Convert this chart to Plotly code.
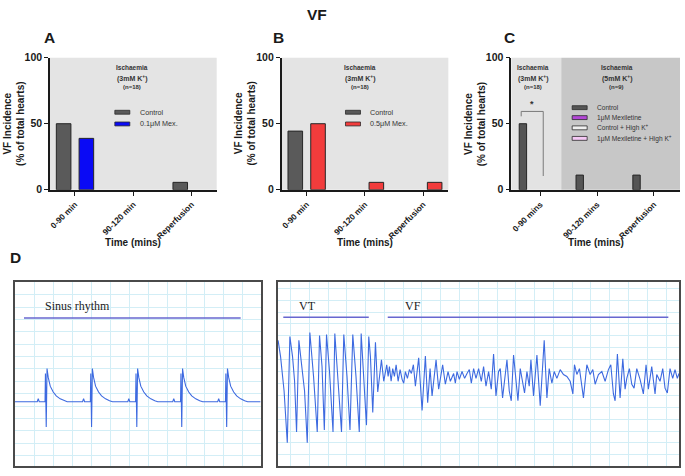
import plotly.graph_objects as go

# ---------------- data: panels A-C (VF incidence, % of hearts) ----------------
cats_ab = ["0-90 min", "90-120 min", "Reperfusion"]
cats_c = ["0-90 mins", "90-120 mins", "Reperfusion"]
y_ticks = [0, 50, 100]

a_names = ["Control", "0.1μM Mex."]
a_control = [50.0, 0.0, 5.6]
a_mex01 = [38.9, 0.0, 0.0]

b_names = ["Control", "0.5μM Mex."]
b_control = [44.4, 0.0, 0.0]
b_mex05 = [50.0, 5.6, 5.6]

c_names = ["Control", "1μM Mexiletine", "Control + High K<sup>+</sup>",
           "1μM Mexiletine + High K<sup>+</sup>"]
c_control = [50.0, 11.1, 11.1]
c_mex1 = [0.0, 0.0, 0.0]
c_ctrl_highk = [0.0, 0.0, 0.0]
c_mex1_highk = [0.0, 0.0, 0.0]

# ---------------- data: panel D (ECG traces) ----------------
sinus_t = [0, 22.3, 23.3, 24.3, 30.1, 30.5, 31.3, 32.1, 33.3, 35.3, 38.3, 41.3, 45.3, 49.3, 52.3,
           67.7, 68.7, 69.7, 75.5, 75.9, 76.7, 77.5, 78.7, 80.7, 83.7, 86.7, 90.7, 94.7, 97.7,
           113, 114, 115, 120.8, 121.2, 122, 122.8, 124, 126, 129, 132, 136, 140, 143,
           158, 159, 160, 165.8, 166.2, 167, 167.8, 169, 171, 174, 177, 181, 185, 188,
           203, 204, 205, 210.8, 211.2, 212, 212.8, 214, 216, 219, 222, 226, 230, 233, 246]
sinus_v = [0, 0, 3.3, 0, 0, 29, -26, 34, 25, 16, 10, 6, 3, 1, 0,
           0, 3.3, 0, 0, 29, -26, 34, 25, 16, 10, 6, 3, 1, 0,
           0, 3.3, 0, 0, 29, -26, 34, 25, 16, 10, 6, 3, 1, 0,
           0, 3.3, 0, 0, 29, -26, 34, 25, 16, 10, 6, 3, 1, 0,
           0, 3.3, 0, 0, 29, -26, 34, 25, 16, 10, 6, 3, 1, 0, 0]

vt_vf_samples = [
    (0.5, 37), (3, 20), (6.5, -15), (9.7, -68), (12.3, 41), (15, 20), (17, -5), (19, -57),
    (21.3, 37), (24, 15), (27, -15), (29.7, -68), (32.3, 45), (36, 0), (39.7, -57), (42, 42),
    (44.5, 10), (46.8, -55), (49, 43), (52, 5), (55.5, -57), (57.3, 44), (60.5, 0), (64, -57),
    (66.3, 43), (69.5, 0), (72.5, -55), (75.3, 43), (78.5, 0), (81.8, -57), (83.7, 44),
    (85.5, 15), (89, -50), (91.3, 41), (93, 20), (95.3, -37), (98, 35), (100.3, -16),
    (104, 17), (106.3, -5),
    (108, 5), (109.3, 12), (110.7, 0), (112, 10), (113.7, -5), (115.3, 8), (117, 0), (118.7, 12),
    (120.7, -5), (122.7, 7), (124.7, -3), (126.3, -7), (128, 5), (130, -2), (132, 7), (134, 3),
    (136, 12), (138, -10), (141.3, 19), (144.7, -35), (148, 21), (150.3, -27), (152.7, 8),
    (154.7, -20), (158.7, 17), (161.3, -13), (165.3, 12), (168, -8), (170.7, 5), (173, -5),
    (176.3, 3), (178, -7), (179.7, 5), (182, -3), (184.7, 5), (187.3, -2), (189.7, 3), (192, 7),
    (194, -7), (196.3, 8), (198.7, -2), (201.3, 8), (204, -5), (206.3, 10), (208.7, -10),
    (211.3, 5), (214, -13), (216.3, 23), (218.7, -20), (221.3, 5), (223, 8), (225.3, -22),
    (228, 2), (229.7, 17), (232, -15), (234, -25), (236.3, 22), (238.7, -8), (240.7, -25),
    (243, 8), (245.3, -5), (247.3, -17), (249.7, 5), (252, -10), (253.7, 17), (256.3, -20),
    (259.7, 22), (263, -30), (267, 37), (269.7, -22), (272, 8), (274.7, -7), (277, 5),
    (279.7, -2), (283, 7), (286.3, 2), (289.7, 0), (293, -5), (295.7, -18), (297.3, 12),
    (299.7, 2), (302.3, 8), (304.7, -10), (306.3, -22), (309.7, 12), (313, 2), (315.7, 7),
    (318, -8), (321.3, 2), (324.7, 5), (328, -5), (331.3, 7), (333.7, 12), (336.3, -18),
    (338, -25), (340.3, 23), (343, -22), (345.7, 18), (348, -13), (349.7, -2), (352.3, 8),
    (354.7, -8), (357, -12), (359.7, 8), (363, -3), (366.3, -18), (369, 12), (371.3, -13),
    (374.7, 10), (378, -18), (379.7, 2), (383, -5), (385.7, 8), (388, -12), (390.3, -17),
    (393, 8), (395.7, -2), (398, 7), (400.3, -2), (402, 3),
]
vt_t = [s[0] for s in vt_vf_samples]
vt_v = [s[1] for s in vt_vf_samples]

# ---------------- styling ----------------
W, H = 685, 476
FONT = "Liberation Sans"
AX = "#1a1a1a"
ECG_BLUE = "#3d6ae0"
GRID = "#d3eef6"
LABEL_LINE = "#6767cf"


def px(x):
    return x / W


def py(y):
    return 1 - y / H


fig = go.Figure()


def bar_line(vals):
    return dict(color="#262626", width=[1 if v > 0 else 0 for v in vals])


# Panel A
fig.add_trace(go.Bar(x=cats_ab, y=a_control, name=a_names[0], xaxis="x", yaxis="y",
                     marker=dict(color="#5a5a5a", line=bar_line(a_control)), width=0.25, offset=-0.32))
fig.add_trace(go.Bar(x=cats_ab, y=a_mex01, name=a_names[1], xaxis="x", yaxis="y",
                     marker=dict(color="#0a0af5", line=bar_line(a_mex01)), width=0.25, offset=0.07))
# Panel B
fig.add_trace(go.Bar(x=cats_ab, y=b_control, name=b_names[0], xaxis="x2", yaxis="y2",
                     marker=dict(color="#5a5a5a", line=bar_line(b_control)), width=0.25, offset=-0.32))
fig.add_trace(go.Bar(x=cats_ab, y=b_mex05, name=b_names[1], xaxis="x2", yaxis="y2",
                     marker=dict(color="#f23c3c", line=bar_line(b_mex05)), width=0.25, offset=0.07))
# Panel C
c_colors = ["#555555", "#b347d6", "#f0f0f0", "#f5c8f5"]
c_series = [c_control, c_mex1, c_ctrl_highk, c_mex1_highk]
c_offsets = [-0.37, -0.17, 0.03, 0.23]
for name, vals, col, off in zip(c_names, c_series, c_colors, c_offsets):
    fig.add_trace(go.Bar(x=cats_c, y=vals, name=name, xaxis="x3", yaxis="y3",
                         marker=dict(color=col, line=bar_line(vals)), width=0.13, offset=off))

# Panel D traces
fig.add_trace(go.Scatter(x=sinus_t, y=sinus_v, mode="lines", xaxis="x4", yaxis="y4",
                         line=dict(color=ECG_BLUE, width=1.1), name="Sinus rhythm"))
fig.add_trace(go.Scatter(x=vt_t, y=vt_v, mode="lines", xaxis="x5", yaxis="y5",
                         line=dict(color=ECG_BLUE, width=1.1), name="VT / VF"))

bar_y_dom = [py(188.5), py(53)]


def bar_xaxis(dom, rng, anchor):
    return dict(domain=dom, range=rng, type="category", anchor=anchor,
                showline=True, linecolor=AX, linewidth=1.5, ticks="outside", ticklen=5,
                tickwidth=1.3, tickcolor=AX, tickangle=-45,
                tickfont=dict(family=FONT, size=8.3, color=AX, weight="bold"),
                showgrid=False, zeroline=False, fixedrange=True)


def bar_yaxis(anchor):
    return dict(domain=bar_y_dom, range=[0, 100], anchor=anchor, tickvals=y_ticks,
                showline=True, linecolor=AX, linewidth=1.5, ticks="outside", ticklen=4,
                tickwidth=1.3, tickcolor=AX,
                tickfont=dict(family=FONT, size=10.5, color=AX, weight="bold"),
                showgrid=False, zeroline=False, fixedrange=True)


def ecg_axis(dom, rng, anchor, t0, dt):
    return dict(domain=dom, range=rng, anchor=anchor, showgrid=True, gridcolor=GRID,
                gridwidth=1, tick0=t0, dtick=dt, showticklabels=False, ticks="",
                zeroline=False, showline=True, mirror=True, linecolor="#4a4a4a",
                linewidth=1.5, fixedrange=True)


ecg_y_dom = [py(472), py(283)]

fig.update_layout(
    width=W, height=H, margin=dict(l=0, r=0, t=0, b=0), autosize=False,
    paper_bgcolor="white", plot_bgcolor="white", showlegend=False,
    barmode="group", font=dict(family=FONT, color=AX),
    xaxis=bar_xaxis([px(49), px(216)], [-0.43, 2.43], "y"),
    yaxis=bar_yaxis("x"),
    xaxis2=bar_xaxis([px(281), px(448)], [-0.43, 2.43], "y2"),
    yaxis2=bar_yaxis("x2"),
    xaxis3=bar_xaxis([px(511), px(680)], [-0.51, 2.46], "y3"),
    yaxis3=bar_yaxis("x3"),
    xaxis4=ecg_axis([px(14), px(260)], [0, 246], "y4", 0.3, 19),
    yaxis4=ecg_axis(ecg_y_dom, [-66, 123], "x4", 8.3, 12.7),
    xaxis5=ecg_axis([px(277), px(679)], [0, 402], "y5", 13, 18.8),
    yaxis5=ecg_axis(ecg_y_dom, [-92, 97], "x5", 5, 12.2),
)

shapes = []
# grey backgrounds
for xr, yr in (("x domain", "y domain"), ("x2 domain", "y2 domain")):
    shapes.append(dict(type="rect", xref=xr, yref=yr, x0=0, x1=1, y0=0, y1=1,
                       fillcolor="#e4e4e4", line=dict(width=0), layer="below"))
shapes.append(dict(type="rect", xref="x3", yref="y3 domain", x0=-0.51, x1=0.37, y0=0, y1=1,
                   fillcolor="#e3e3e3", line=dict(width=0), layer="below"))
shapes.append(dict(type="rect", xref="x3", yref="y3 domain", x0=0.37, x1=2.46, y0=0, y1=1,
                   fillcolor="#c7c7c7", line=dict(width=0), layer="below"))
# significance bracket in C
shapes.append(dict(type="path", xref="x3", yref="y3",
                   path="M -0.335,55.6 L -0.335,59.3 L 0.053,59.3 L 0.053,10.4",
                   line=dict(color="#7a7a7a", width=1)))

annotations = []


def ann(x, y, text, size, **kw):
    d = dict(x=px(x), y=py(y), xref="paper", yref="paper", text=text, showarrow=False,
             font=dict(family=FONT, size=size, color=kw.pop("color", AX)),
             xanchor=kw.pop("xanchor", "center"), yanchor=kw.pop("yanchor", "middle"))
    d.update(kw)
    annotations.append(d)


# legends (manual, wide swatches)
def legend(x_sw, x_txt, rows, names, colors, size):
    for yy, nm, col in zip(rows, names, colors):
        shapes.append(dict(type="rect", xref="paper", yref="paper", x0=px(x_sw), x1=px(x_sw + 15),
                           y0=py(yy + 2), y1=py(yy - 2), fillcolor=col,
                           line=dict(color="#2a2a2a", width=0.8)))
        ann(x_txt, yy, nm, size, xanchor="left", color="#333333")


legend(114, 137, [109, 121], a_names, ["#5a5a5a", "#0a0af5"], 7.2)
legend(345, 368, [109, 121], b_names, ["#5a5a5a", "#f23c3c"], 7.2)
legend(572, 595, [104.3, 114.5, 125, 135.8], c_names, c_colors, 6.6)

# panel letters and title
ann(49, 32, "<b>A</b>", 15.5)
ann(278, 32, "<b>B</b>", 15.5)
ann(509, 32, "<b>C</b>", 15.5)
ann(316.5, 9, "<b>VF</b>", 15.5)
ann(15, 258, "<b>D</b>", 15.5)

# axis titles
ytitle = "<b>VF Incidence</b><br><b>(% of total hearts)</b>"
for xc in (13, 244, 475):
    ann(xc, 121, ytitle, 10, textangle=-90)
for xc in (132.5, 364.5, 595.5):
    ann(xc, 243, "<b>Time (mins)</b>", 10)

# ischaemia labels
for xc, k, n in ((131, "3mM", "18"), (360, "3mM", "18"), (532.7, "3mM", "18"), (616.7, "5mM", "9")):
    ann(xc, 63, "<b>Ischaemia</b>", 6.5, color="#333333")
    ann(xc, 74, f"<b>({k} K<sup>+</sup>)</b>", 7, color="#333333")
    ann(xc, 83, f"<b>(n={n})</b>", 6, color="#333333")

# significance star
annotations.append(dict(x=-0.14, y=65, xref="x3", yref="y3", text="<b>*</b>", showarrow=False,
                        font=dict(family=FONT, size=9, color="#333333")))

# ECG labels
SERIF = "Liberation Serif"
annotations.append(dict(x=27.7, y=98.3, xref="x4", yref="y4", text="Sinus rhythm", showarrow=False,
                        xanchor="left", yanchor="middle", font=dict(family=SERIF, size=12, color="#222222")))
annotations.append(dict(x=19.7, y=72.3, xref="x5", yref="y5", text="VT", showarrow=False,
                        xanchor="left", yanchor="middle", font=dict(family=SERIF, size=12, color="#222222")))
annotations.append(dict(x=126, y=72.3, xref="x5", yref="y5", text="VF", showarrow=False,
                        xanchor="left", yanchor="middle", font=dict(family=SERIF, size=12, color="#222222")))
shapes.append(dict(type="line", xref="x4", yref="y4", x0=9, x1=226, y0=86, y1=86,
                   line=dict(color=LABEL_LINE, width=1.4)))
shapes.append(dict(type="line", xref="x5", yref="y5", x0=5.7, x1=91.3, y0=60.7, y1=60.7,
                   line=dict(color=LABEL_LINE, width=1.4)))
shapes.append(dict(type="line", xref="x5", yref="y5", x0=110.3, x1=391.3, y0=60.7, y1=60.7,
                   line=dict(color=LABEL_LINE, width=1.4)))

fig.update_layout(shapes=shapes, annotations=annotations)
fig.write_html("out.html", config={"displayModeBar": False},
               post_script="document.body.style.margin='0px';")
